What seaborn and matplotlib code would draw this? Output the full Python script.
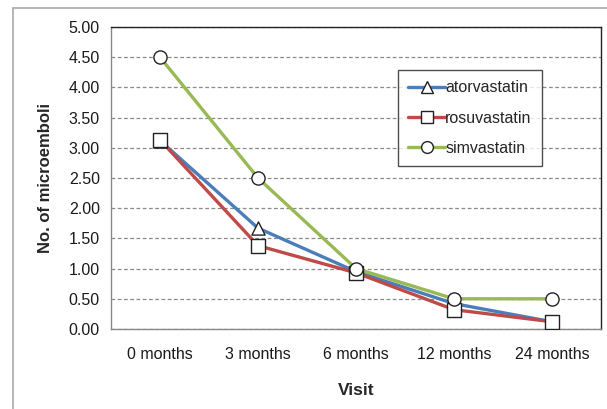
import matplotlib
matplotlib.use("Agg")
import matplotlib.pyplot as plt
import seaborn as sns
import pandas as pd
from matplotlib.lines import Line2D
from matplotlib.ticker import FixedLocator

visits = ["0 months", "3 months", "6 months", "12 months", "24 months"]
atorvastatin = [3.12, 1.67, 0.95, 0.42, 0.12]
rosuvastatin = [3.13, 1.38, 0.93, 0.32, 0.12]
simvastatin = [4.50, 2.50, 1.00, 0.50, 0.50]
y_ticks = [0.0, 0.5, 1.0, 1.5, 2.0, 2.5, 3.0, 3.5, 4.0, 4.5, 5.0]

series = {"atorvastatin": atorvastatin, "rosuvastatin": rosuvastatin, "simvastatin": simvastatin}
colors = {"atorvastatin": "#4A7EBB", "rosuvastatin": "#BE4B48", "simvastatin": "#98B954"}
markers = {"atorvastatin": "^", "rosuvastatin": "s", "simvastatin": "o"}

rows = []
for name, vals in series.items():
    for i, v in enumerate(vals):
        rows.append({"pos": i, "visit": visits[i], "value": v, "drug": name})
df = pd.DataFrame(rows)

sns.set_style("white")
plt.rcParams["font.family"] = ["Liberation Sans", "DejaVu Sans"]

fig = plt.figure(figsize=(6.07, 4.09), dpi=100)
ax = fig.add_axes([111 / 607, 1 - 329 / 409, 490 / 607, 302 / 409])

sns.lineplot(data=df, x="pos", y="value", hue="drug", palette=colors,
             linewidth=2.4, ax=ax, legend=False, sort=False)
for name in series:
    sub = df[df["drug"] == name]
    ax.scatter(sub["pos"], sub["value"], marker=markers[name], s=90,
               facecolor="white", edgecolor="#222222", linewidth=1.0, zorder=5)

ax.set_xlim(-0.5, 4.5)
ax.set_ylim(0, 5)
ax.set_yticks(y_ticks)
ax.set_yticklabels([f"{t:.2f}" for t in y_ticks], fontsize=11.5)
ax.set_xticks(range(len(visits)))
ax.set_xticklabels(visits, fontsize=11.5)
ax.xaxis.set_minor_locator(FixedLocator([-0.5, 0.5, 1.5, 2.5, 3.5, 4.5]))
ax.tick_params(axis="x", which="major", length=0, pad=13)
ax.tick_params(axis="x", which="minor", length=5, color="#888888", width=1, direction="inout")
ax.tick_params(axis="y", which="major", length=5, color="#888888", width=1, direction="out", pad=3)
for lbl in ax.get_xticklabels() + ax.get_yticklabels():
    lbl.set_color("#1a1a1a")

ax.yaxis.grid(True, linestyle=(0, (3, 2)), color="#8a8a8a", linewidth=0.9)
ax.set_axisbelow(True)

ax.spines["left"].set_color("#888888")
ax.spines["bottom"].set_color("#888888")
ax.spines["top"].set_color("#222222")
ax.spines["right"].set_color("#222222")
for s in ax.spines.values():
    s.set_linewidth(1.0)

ax.set_xlabel("Visit", fontsize=12.5, fontweight="bold", labelpad=15)
ax.set_ylabel("No. of microemboli", fontsize=12, fontweight="bold", labelpad=11)

handles = [Line2D([0], [0], color=colors[n], linewidth=2.4, marker=markers[n],
                  markersize=8.5, markerfacecolor="white", markeredgecolor="#222222",
                  markeredgewidth=1.0) for n in series]
leg = ax.legend(handles, list(series), loc="upper left",
                bbox_to_anchor=((398 - 111) / 490, (329 - 70) / 302),
                fontsize=11.5, frameon=True, fancybox=False, edgecolor="#222222",
                handlelength=2.3, handletextpad=0.0, labelspacing=0.95,
                borderpad=0.65, borderaxespad=0)
leg.get_frame().set_linewidth(1.0)

# outer chart border
fig.add_artist(Line2D([13 / 607, 13 / 607], [0, 1 - 8 / 409], transform=fig.transFigure,
                      color="#aaaaaa", linewidth=1.2))
fig.add_artist(Line2D([13 / 607, 1], [1 - 8 / 409, 1 - 8 / 409], transform=fig.transFigure,
                      color="#aaaaaa", linewidth=1.2))

fig.savefig("out.png", dpi=100)
